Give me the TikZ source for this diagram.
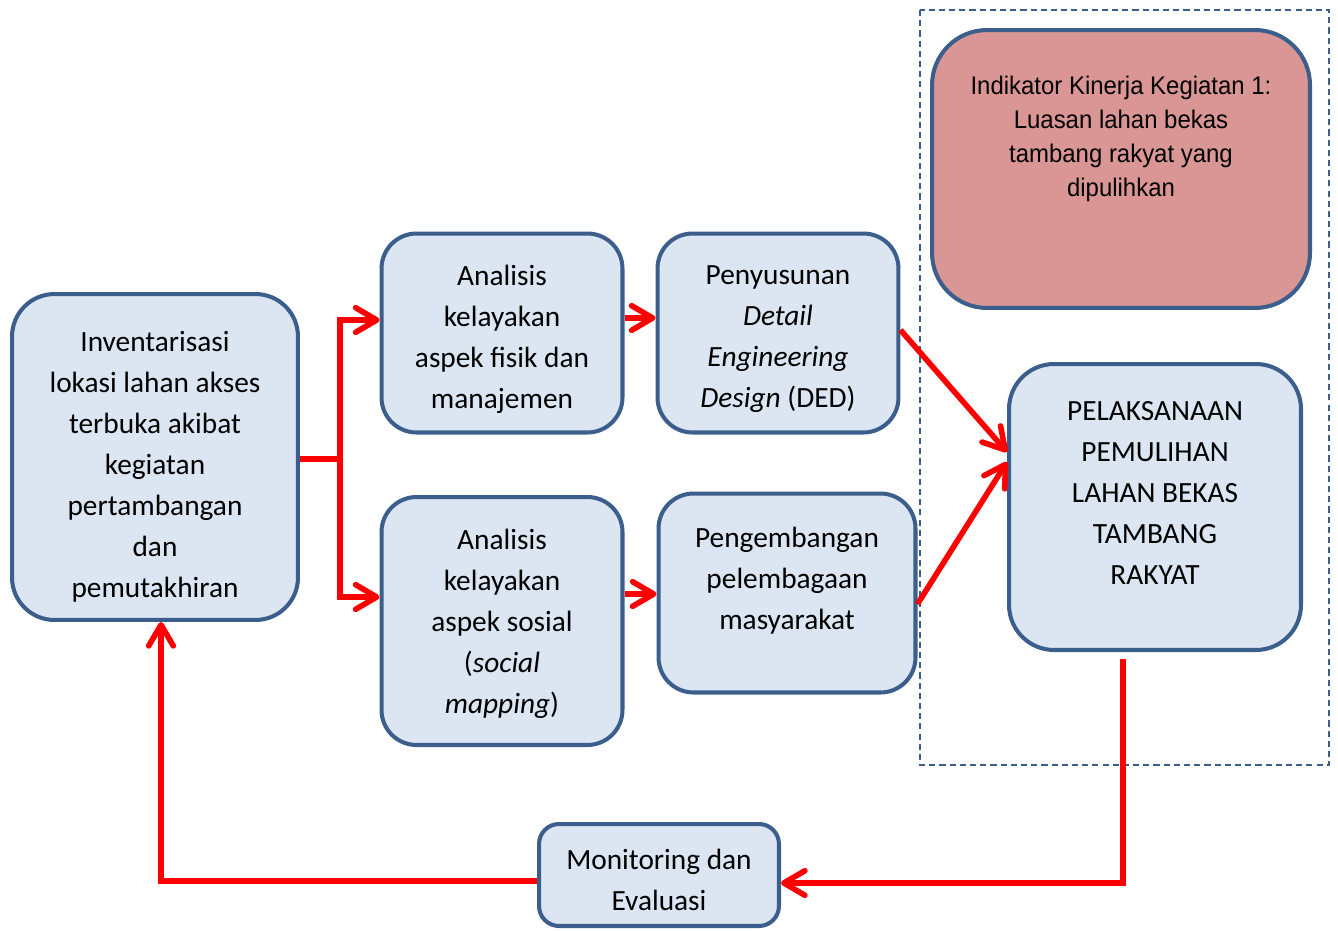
\documentclass[tikz,border=0pt]{standalone}
\usepackage{fontspec}
\setmainfont{Carlito}
\newfontfamily\narrowfont[FakeStretch=0.94]{Liberation Sans}
\usetikzlibrary{calc}
\usetikzlibrary{positioning}
\usetikzlibrary{arrows.meta}
\definecolor{boxBlue}{HTML}{3B5E8C}
\definecolor{boxFill}{HTML}{DCE6F2}
\definecolor{goalFill}{HTML}{D99694}

\begin{document}
\begin{tikzpicture}[x=0.02cm, y=-0.02cm]
      \tikzstyle{box} = [draw=boxBlue, line width=2.3pt, fill=boxFill, rounded corners=0.7cm]
      \tikzstyle{txt} = [align=center, font=\fontsize{16.7}{23.3}\selectfont]
      \tikzstyle{flow} = [draw=red, line width=3.2pt, -{Straight Barb[length=12pt, width=14pt, round]}]

      \useasboundingbox (0,0) rectangle (1338,930);

      % dashed frame round the target part
      \draw[boxBlue, line width=1.1pt, dash pattern=on 3.5pt off 2.3pt] (920,10) rectangle (1329,765);

      \node (inventarisasi) [box, minimum width=5.72cm, minimum height=6.52cm, rounded corners=0.85cm] at (155,457) {};
      \node (inventarisasiText) [txt] at ($(inventarisasi)+(0,10)$) {Inventarisasi\\lokasi lahan akses\\terbuka akibat\\kegiatan\\pertambangan\\dan\\pemutakhiran};

      \node (analisisFisik) [box, minimum width=4.82cm, minimum height=3.98cm] at (502,333) {};
      \node (analisisFisikText) [txt] at ($(analisisFisik)+(0,6)$) {Analisis\\kelayakan\\aspek fisik dan\\manajemen};
      \node (penyusunanDED) [box, minimum width=4.82cm, minimum height=3.98cm, right=0.62cm of analisisFisik] {};
      \node (penyusunanDEDText) [txt] at ($(penyusunanDED)+(0,6)$) {Penyusunan\\\textit{Detail}\\\textit{Engineering}\\\textit{Design} (DED)};

      \node (analisisSosial) [box, minimum width=4.82cm, minimum height=4.96cm] at (502,621) {};
      \node (analisisSosialText) [txt] at ($(analisisSosial)+(0,3)$) {Analisis\\kelayakan\\aspek sosial\\(\textit{social}\\\textit{mapping})};
      \node (pengembangan) [box, minimum width=5.14cm, minimum height=3.98cm] at (787,593) {};
      \node (pengembanganText) [txt] at ($(pengembangan)+(0,-12)$) {Pengembangan\\pelembagaan\\masyarakat};

      \node (indikator) [box, fill=goalFill, minimum width=7.56cm, minimum height=5.56cm, rounded corners=1.1cm] at (1121,169) {};
      \node (indikatorText) [align=center, font=\narrowfont\fontsize{14.5}{19.3}\selectfont] at ($(indikator)+(0,-30)$) {Indikator Kinerja Kegiatan 1:\\Luasan lahan bekas\\tambang rakyat yang\\dipulihkan};

      \node (pelaksanaan) [box, minimum width=5.84cm, minimum height=5.72cm, rounded corners=0.9cm] at (1155,507) {};
      \node (pelaksanaanText) [txt] at ($(pelaksanaan)+(0,-14)$) {PELAKSANAAN\\PEMULIHAN\\LAHAN BEKAS\\TAMBANG\\RAKYAT};

      \node (monitoring) [box, minimum width=4.8cm, minimum height=2.04cm, rounded corners=0.4cm] at (659,875) {};
      \node (monitoringText) [txt] at ($(monitoring)+(0,5)$) {Monitoring dan\\Evaluasi};

      % connectors
      \coordinate (fork) at (340,459);
      \draw[flow] (inventarisasi.east |- fork) -- (fork) |- ($(analisisFisik.west)+(0,-13)$);
      \draw[flow] (fork) |- ($(analisisSosial.west)+(0,-24)$);
      \draw[flow] ($(analisisFisik.east)+(0,-15)$) -- ($(penyusunanDED.west)+(0,-15)$);
      \draw[flow] ($(analisisSosial.east)+(0,-27)$) -- ($(pengembangan.west)+(0,1)$);
      \draw[flow] ($(penyusunanDED.east)+(0,-3)$) -- ($(pelaksanaan.west)+(0,-55)$);
      \draw[flow] ($(pengembangan.east)+(0,11)$) -- ($(pelaksanaan.west)+(0,-45)$);
      \draw[flow] ($(pelaksanaan.south)+(-32,7)$) |- ($(monitoring.east)+(0,8)$);
      \draw[flow] ($(monitoring.west)+(0,6)$) -| ($(inventarisasi.south)+(6,0)$);
\end{tikzpicture}
\end{document}
